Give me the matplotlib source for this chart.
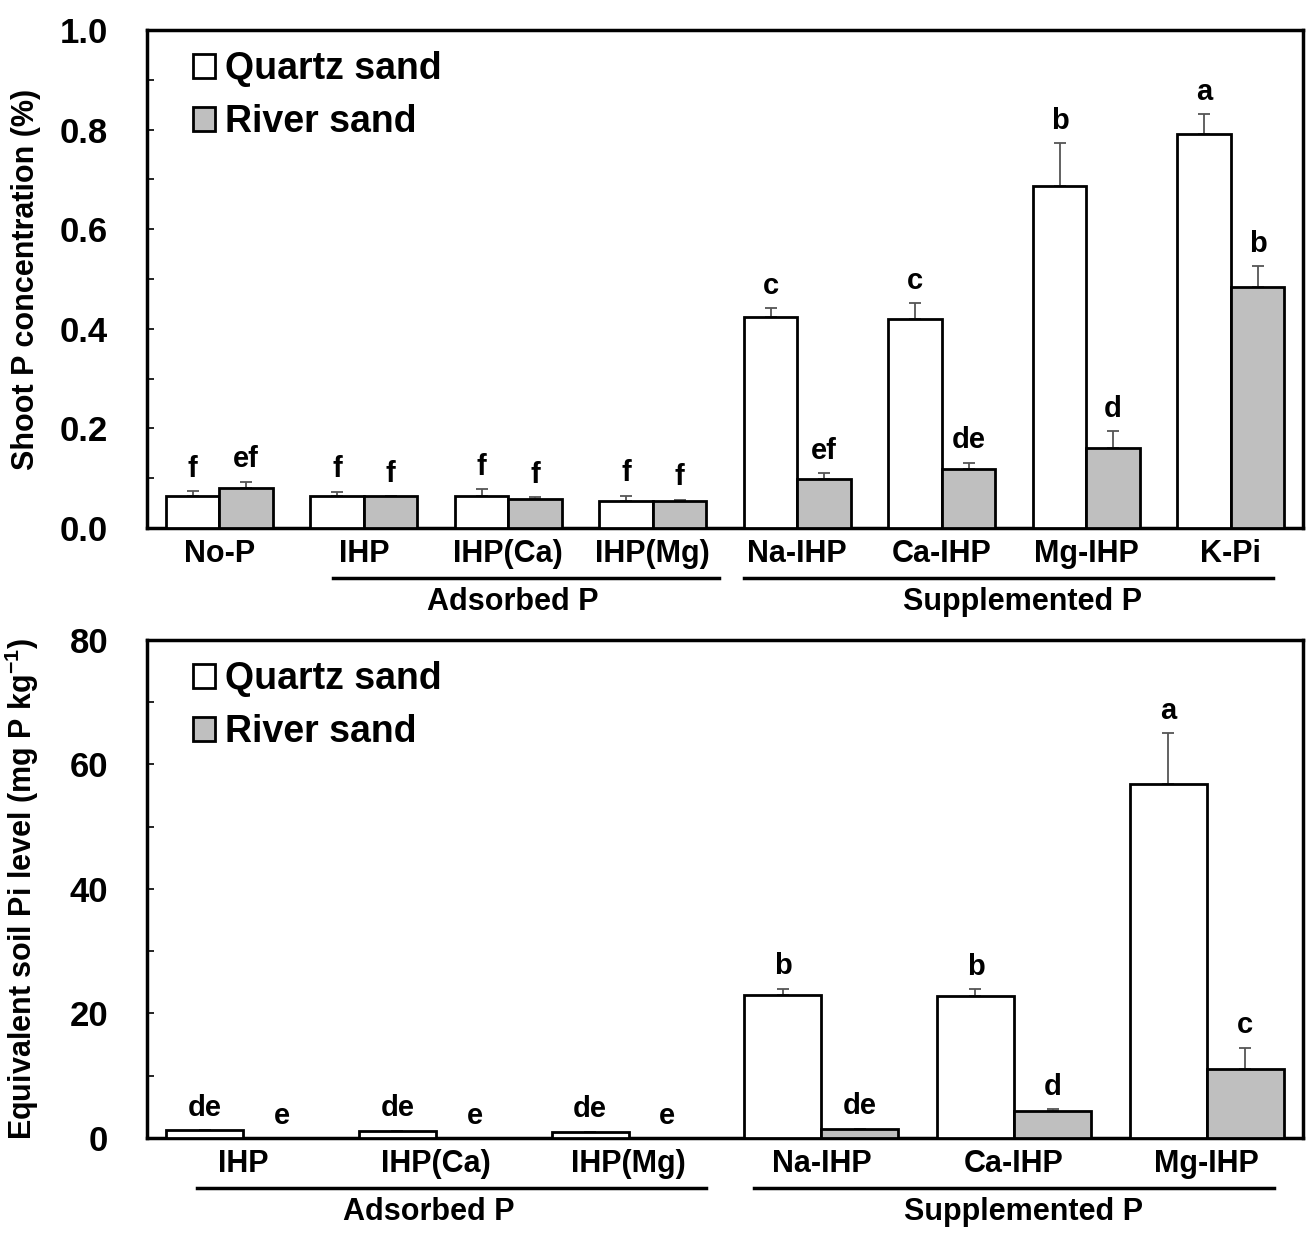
import numpy as np
import matplotlib.pyplot as plt

plt.rcParams['font.family'] = ['Liberation Sans', 'DejaVu Sans']
plt.rcParams['font.weight'] = 'bold'
plt.rcParams['mathtext.fontset'] = 'custom'
plt.rcParams['mathtext.rm'] = 'Liberation Sans:bold'
plt.rcParams['mathtext.bf'] = 'Liberation Sans:bold'

# ---- top panel: shoot P concentration (%) ----
top_cats = ['No-P', 'IHP', 'IHP(Ca)', 'IHP(Mg)', 'Na-IHP', 'Ca-IHP', 'Mg-IHP', 'K-Pi']
top_quartz = [0.064, 0.064, 0.064, 0.055, 0.423, 0.420, 0.687, 0.791]
top_quartz_err = [0.010, 0.009, 0.014, 0.010, 0.018, 0.032, 0.086, 0.040]
top_river = [0.081, 0.064, 0.058, 0.055, 0.099, 0.119, 0.160, 0.483]
top_river_err = [0.012, 0.000, 0.004, 0.002, 0.011, 0.012, 0.034, 0.043]
top_quartz_let = ['f', 'f', 'f', 'f', 'c', 'c', 'b', 'a']
top_river_let = ['ef', 'f', 'f', 'f', 'ef', 'de', 'd', 'b']

# ---- bottom panel: equivalent soil Pi level ----
bot_cats = ['IHP', 'IHP(Ca)', 'IHP(Mg)', 'Na-IHP', 'Ca-IHP', 'Mg-IHP']
bot_quartz = [1.3, 1.2, 1.0, 23.0, 22.8, 56.8]
bot_quartz_err = [0.0, 0.0, 0.0, 1.0, 1.1, 8.2]
bot_river = [0.0, 0.0, 0.0, 1.5, 4.3, 11.1]
bot_river_err = [0.0, 0.0, 0.0, 0.0, 0.3, 3.4]
bot_quartz_let = ['de', 'de', 'de', 'b', 'b', 'a']
bot_river_let = ['e', 'e', 'e', 'de', 'd', 'c']

RIVER = '#bfbfbf'


def draw_panel(ax, cats, q, qe, r, re_, qlet, rlet, width, ymax, ystep, ylabel,
               groups, fmt):
    x = np.arange(len(cats))
    zeros = np.zeros(len(cats))
    ax.bar(x - width / 2, q, width, color='white', edgecolor='black', linewidth=2,
           label='Quartz sand', zorder=3)
    ax.bar(x + width / 2, r, width, color=RIVER, edgecolor='black', linewidth=2,
           label='River sand', zorder=3)
    ax.errorbar(x - width / 2, q, yerr=[zeros, qe], fmt='none', ecolor='#555555',
                elinewidth=1.3, capsize=4, capthick=1.3, zorder=2)
    ax.errorbar(x + width / 2, r, yerr=[zeros, re_], fmt='none', ecolor='#555555',
                elinewidth=1.3, capsize=4, capthick=1.3, zorder=2)
    for i in range(len(cats)):
        ax.annotate(qlet[i], (x[i] - width / 2, q[i] + qe[i]), xytext=(0, 6),
                    textcoords='offset points', ha='center', va='bottom',
                    fontsize=21, fontweight='bold')
        ax.annotate(rlet[i], (x[i] + width / 2, r[i] + re_[i]), xytext=(0, 6),
                    textcoords='offset points', ha='center', va='bottom',
                    fontsize=21, fontweight='bold')

    ax.set_xlim(-0.5, len(cats) - 0.5)
    ax.set_ylim(0, ymax)
    ax.set_yticks(np.arange(0, ymax + ystep / 2, ystep))
    ax.set_yticks(np.arange(0, ymax, ystep / 2), minor=True)
    ax.yaxis.set_major_formatter(plt.FormatStrFormatter(fmt))
    ax.tick_params(axis='y', which='both', direction='in', length=5, width=1.2,
                   pad=28, labelsize=25)
    ax.set_xticks(x)
    ax.set_xticklabels(cats)
    ax.tick_params(axis='x', length=0, pad=8, labelsize=22)
    for s in ax.spines.values():
        s.set_linewidth(2.5)
    ax.set_ylabel(ylabel, fontsize=22, fontweight='bold')
    ax.yaxis.set_label_coords(-0.092, 0.5)

    trans = ax.get_xaxis_transform()
    for x0, x1, xt, name in groups:
        ax.plot([x0, x1], [-0.1, -0.1], color='black', lw=2.5, transform=trans,
                clip_on=False)
        ax.text(xt, -0.148, name, transform=trans, ha='center',
                va='center', fontsize=22, fontweight='bold')

    ax.legend(loc='upper left', bbox_to_anchor=(0.017, 1.01), frameon=False,
              fontsize=27, handlelength=0.6, handleheight=0.6,
              handletextpad=0.25, labelspacing=0.45, borderaxespad=0.3)


fig = plt.figure(figsize=(13.08, 12.34), dpi=100)
ax1 = fig.add_axes([0.1124, 0.5721, 0.8838, 0.4036])
ax2 = fig.add_axes([0.1124, 0.0778, 0.8838, 0.4036])

draw_panel(ax1, top_cats, top_quartz, top_quartz_err, top_river, top_river_err,
           top_quartz_let, top_river_let, 0.37, 1.0, 0.2,
           'Shoot P concentration (%)',
           [(0.79, 3.46, 2.03, 'Adsorbed P'), (3.63, 7.29, 5.56, 'Supplemented P')],
           '%.1f')
draw_panel(ax2, bot_cats, bot_quartz, bot_quartz_err, bot_river, bot_river_err,
           bot_quartz_let, bot_river_let, 0.40, 80, 20,
           'Equivalent soil Pi level (mg P kg$^{-1}$)',
           [(-0.24, 2.40, 0.96, 'Adsorbed P'), (2.65, 5.35, 4.05, 'Supplemented P')],
           '%d')

fig.savefig('out.png', dpi=100)
